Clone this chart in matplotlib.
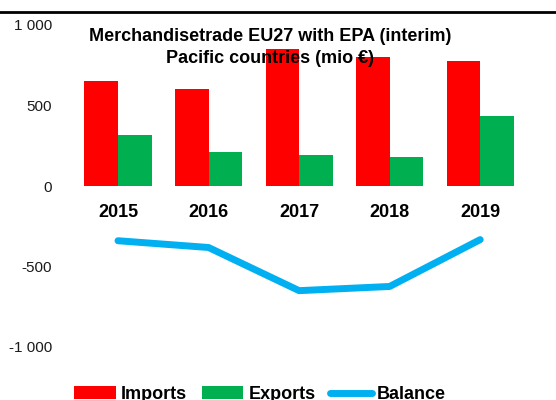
import numpy as np
import matplotlib.pyplot as plt
from matplotlib.lines import Line2D
from matplotlib.ticker import FuncFormatter

years = ['2015', '2016', '2017', '2018', '2019']
imports = [652, 600, 849, 804, 774]
exports = [315, 211, 193, 183, 437]
balance = [-340, -382, -650, -624, -333]

plt.rcParams['font.family'] = ['Liberation Sans', 'DejaVu Sans']

fig = plt.figure(figsize=(5.56, 4.0), dpi=100)
ax = fig.add_axes([0.1308, 0.1325, 0.8143, 0.805])

x = np.arange(len(years))
w = 0.37
h_imp = ax.bar(x - w / 2, imports, w, color='#FF0000', zorder=2)
h_exp = ax.bar(x + w / 2, exports, w, color='#00B050', zorder=2)
h_bal, = ax.plot(x, balance, color='#00B0F0', lw=5, solid_capstyle='round',
                 zorder=3)

ax.set_xlim(-0.5, len(years) - 0.5)
ax.set_ylim(-1000, 1000)
ax.set_yticks([-1000, -500, 0, 500, 1000])


def thousands(v, pos):
    return f'{int(v):,}'.replace(',', ' ')


ax.yaxis.set_major_formatter(FuncFormatter(thousands))
ax.tick_params(axis='y', length=0, pad=15, labelsize=11, labelcolor='#1a1a1a')

# category labels sit just under the zero line
ax.spines['bottom'].set_position(('data', 0))
ax.set_xticks(x)
ax.set_xticklabels(years, fontweight='bold', fontsize=13)
ax.tick_params(axis='x', length=0, pad=13)
for s in ax.spines.values():
    s.set_visible(False)

ax.text(0.436, 0.99, 'Merchandisetrade EU27 with EPA (interim)\nPacific countries (mio €)',
        transform=ax.transAxes, ha='center', va='top', fontsize=13,
        fontweight='bold', linespacing=1.35, zorder=5)

fig.add_artist(Line2D([0, 1], [0.97, 0.97], color='black', lw=2))

fig.legend([h_imp, h_exp, h_bal], ['Imports', 'Exports', 'Balance'],
           loc='center', bbox_to_anchor=(0.468, 0.014), ncol=3, frameon=False,
           prop={'weight': 'bold', 'size': 13}, handlelength=2.3,
           handletextpad=0.3, columnspacing=0.8)

fig.savefig('out.png', dpi=100)
